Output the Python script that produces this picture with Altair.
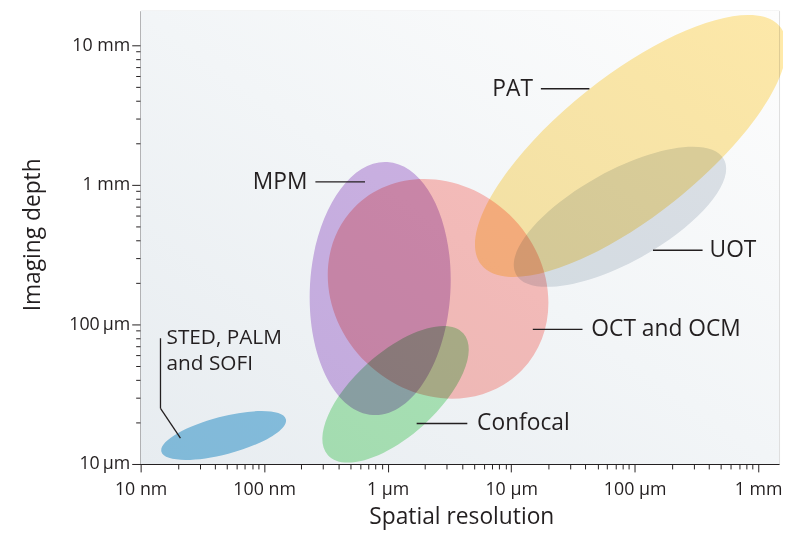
import altair as alt
import pandas as pd

# ---------------- data ----------------
methods = ["STED, PALM and SOFI", "Confocal", "MPM", "OCT and OCM", "PAT", "UOT"]
center_res_um = [0.047, 1.16, 0.87, 2.56, 93.0, 76.0]          # spatial resolution (µm)
center_depth_um = [16.0, 31.6, 181.0, 180.0, 1900.0, 590.0]    # imaging depth (µm)

x_major = [0.01, 0.1, 1, 10, 100, 1000]
x_major_labels = ["10 nm", "100 nm", "1 µm", "10 µm", "100 µm", "1 mm"]
y_major = [10, 100, 1000, 10000]
y_major_labels = ["10\u2009µm", "100\u2009µm", "1 mm", "10 mm"]
minor_mult = [2, 3, 4, 5, 6, 7, 8, 9]

# annotation labels (anchor in data coordinates)
label_text = ["PAT", "MPM", "UOT", "OCT and OCM", "Confocal", "STED, PALM\nand SOFI"]
label_x = [15.0, 0.224, 404.0, 44.6, 5.3, 0.0162]
label_y = [4880.0, 1050.0, 340.0, 92.0, 19.5, 79.5]
label_side = ["right", "right", "left", "left", "left", "small"]

# leader lines (segments in data coordinates)
lead_x1 = [17.4, 0.26, 140.6, 14.97, 1.717, 0.01448, 0.01448]
lead_x2 = [43.0, 0.656, 354.6, 37.8, 4.415, 0.01448, 0.021]
lead_y1 = [4880.0, 1050.0, 340.0, 92.0, 19.5, 79.6, 25.0]
lead_y2 = [4880.0, 1050.0, 340.0, 92.0, 19.5, 25.0, 15.3]

# ---------------- style ----------------
W, H = 645, 458
X_DOMAIN = [0.01, 1475]
Y_DOMAIN = [10, 17700]
FONT = "Open Sans"
INK = "#231f20"
semi_major_px = [65, 92, 128, 118, 193, 120]
semi_minor_px = [19, 42, 71, 104, 71, 46]
tilt_deg = [14.7, 42, 86.8, -44, 38.5, 29]
fills = ["#8ec8e6", "#b2ebba", "#d3b6e8", "#ffc2be", "#ffeaaa", "#dfe4e9"]

x_ticks = [m * d for d in x_major if d * 2 <= X_DOMAIN[1] for m in minor_mult] + x_major
y_ticks = [m * d for d in y_major if d * 2 <= Y_DOMAIN[1] for m in minor_mult] + y_major


def label_expr(vals, labs):
    expr = "''"
    for v, l in reversed(list(zip(vals, labs))):
        expr = f"datum.value == {v} ? '{l}' : ({expr})"
    return expr


def major_test(vals):
    return "indexof([" + ",".join(str(v) for v in vals) + "], datum.value) >= 0"


common_axis = dict(
    grid=False, domainColor=INK, domainWidth=1.2, tickColor=INK, tickWidth=1,
    labelColor=INK, labelFontSize=18, labelFont=FONT, titleFont=FONT,
    titleFontSize=23, titleFontWeight="normal", titleColor=INK,
    labelOverlap=False, labelFlush=False, titleAlign="center",
    titleBaseline="alphabetic",
)

x_axis = alt.Axis(
    values=x_ticks, labelExpr=label_expr(x_major, x_major_labels),
    title="Spatial resolution",
    tickSize={"condition": {"test": major_test(x_major), "value": 8}, "value": 5},
    labelPadding=9, titleX=324, titleY=60, **common_axis,
)
y_axis = alt.Axis(
    values=y_ticks, labelExpr=label_expr(y_major, y_major_labels),
    title="Imaging depth",
    tickSize={"condition": {"test": major_test(y_major), "value": 9}, "value": 5},
    labelPadding=2, titleX=-102, titleY=226, titleAngle=270, **common_axis,
)

xscale = alt.Scale(type="log", domain=X_DOMAIN, nice=False)
yscale = alt.Scale(type="log", domain=Y_DOMAIN, nice=False)

bg = alt.Chart(pd.DataFrame({"k": [0]})).mark_rect(
    color=alt.LinearGradient(
        gradient="linear", x1=0, y1=1, x2=1, y2=0,
        stops=[alt.GradientStop(color="#e7ecf0", offset=0),
               alt.GradientStop(color="#f2f5f7", offset=0.5),
               alt.GradientStop(color="#fdfdfd", offset=1)],
    )
).encode(x=alt.value(0), x2=alt.value(W), y=alt.value(0), y2=alt.value(H))

layers = [bg]
for i, name in enumerate(methods):
    r = semi_minor_px[i] / semi_major_px[i]
    path = f"M -1 0 A 1 {r:.4f} 0 1 1 1 0 A 1 {r:.4f} 0 1 1 -1 0 Z"
    df = pd.DataFrame({"method": [name], "res": [center_res_um[i]],
                       "depth": [center_depth_um[i]]})
    layers.append(
        alt.Chart(df).mark_point(
            shape=path, filled=True, size=(2 * semi_major_px[i]) ** 2,
            angle=(360 - tilt_deg[i]) % 360, color=fills[i], opacity=1,
            strokeWidth=0, blend="multiply",
        ).encode(
            x=alt.X("res:Q", scale=xscale, axis=x_axis),
            y=alt.Y("depth:Q", scale=yscale, axis=y_axis),
        )
    )

lead_df = pd.DataFrame({"x1": lead_x1, "x2": lead_x2, "y1": lead_y1, "y2": lead_y2})
layers.append(
    alt.Chart(lead_df).mark_rule(color=INK, strokeWidth=1.3).encode(
        x=alt.X("x1:Q", scale=xscale, axis=x_axis), x2="x2:Q",
        y=alt.Y("y1:Q", scale=yscale, axis=y_axis), y2="y2:Q",
    )
)

lab_df = pd.DataFrame({"text": label_text, "x": label_x, "y": label_y, "side": label_side})
for side, align, fsize in [("right", "right", 23), ("left", "left", 23), ("small", "left", 21)]:
    layers.append(
        alt.Chart(lab_df[lab_df.side == side]).mark_text(
            align=align, baseline="middle", fontSize=fsize, font=FONT, color=INK,
            lineBreak="\n", lineHeight=26,
        ).encode(
            x=alt.X("x:Q", scale=xscale, axis=x_axis),
            y=alt.Y("y:Q", scale=yscale, axis=y_axis),
            text="text:N",
        )
    )

chart = alt.layer(*layers).properties(
    width=W, height=H,
    padding={"left": 134, "top": 0, "right": 4, "bottom": 64},
    autosize=alt.AutoSizeParams(type="none"),
).configure_view(stroke=None).configure(background="white", font=FONT)

chart.save("out.html", embed_options={"renderer": "svg", "actions": False})
